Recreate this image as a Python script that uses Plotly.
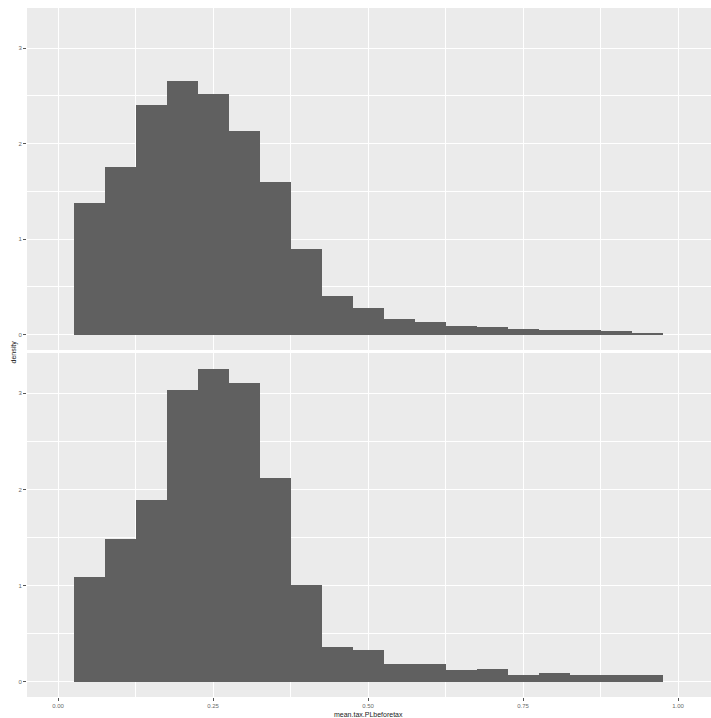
import plotly.graph_objects as go
from plotly.subplots import make_subplots

# Histogram bins (centers) and densities for the two facets
bin_centers = [0.05, 0.10, 0.15, 0.20, 0.25, 0.30, 0.35, 0.40, 0.45, 0.50,
               0.55, 0.60, 0.65, 0.70, 0.75, 0.80, 0.85, 0.90, 0.95]
bin_width = 0.05
density_top = [1.38, 1.76, 2.40, 2.66, 2.52, 2.13, 1.60, 0.90, 0.41, 0.28,
               0.165, 0.13, 0.092, 0.078, 0.06, 0.05, 0.047, 0.04, 0.017]
density_bottom = [1.09, 1.48, 1.89, 3.04, 3.25, 3.11, 2.12, 1.01, 0.365, 0.334,
                  0.185, 0.185, 0.118, 0.133, 0.073, 0.09, 0.073, 0.073, 0.073]

x_ticks = [0.0, 0.25, 0.5, 0.75, 1.0]
x_ticklabels = ["0.00", "0.25", "0.50", "0.75", "1.00"]
y_ticks = [0, 1, 2, 3]
y_ticklabels = ["0", "1", "2", "3"]
x_title = "mean.tax.PLbeforetax"
y_title = "density"

BAR = "#606060"
PANEL = "#EBEBEB"
FONT = "Liberation Sans, Arial, sans-serif"

fig = make_subplots(rows=2, cols=1, shared_xaxes=True, vertical_spacing=0.004)

for r, dens in ((1, density_top), (2, density_bottom)):
    fig.add_trace(go.Bar(x=bin_centers, y=dens, width=[bin_width] * len(dens),
                         marker=dict(color=BAR, line=dict(width=0)),
                         showlegend=False, hoverinfo="skip"), row=r, col=1)

W, H = 715, 718
ml, mr, mt, mb = 27, 0, 8, 21
px_per_unit = 620.0
x_left = -0.05
x_right = x_left + (W - ml - mr) / px_per_unit
plot_h = H - mt - mb
top_dom = [(H - mb - 350) / plot_h, 1.0]
bot_dom = [0.0, (H - mb - 353) / plot_h]

x_common = dict(range=[x_left, x_right], tickvals=x_ticks, ticktext=x_ticklabels,
                showgrid=True, gridcolor="white", gridwidth=1.1, zeroline=False,
                showline=False,
                minor=dict(dtick=0.125, tick0=0.125, showgrid=True, gridcolor="white", gridwidth=0.5),
                ticks="outside", ticklen=3, tickcolor="#555555", tickwidth=0.7,
                tickfont=dict(size=6, color="#6a6a6a", family=FONT))
y_common = dict(range=[-0.16, 3.42], tickvals=y_ticks, ticktext=y_ticklabels,
                showgrid=True, gridcolor="white", gridwidth=1.1, zeroline=False,
                showline=False,
                minor=dict(dtick=0.5, tick0=0.5, showgrid=True, gridcolor="white", gridwidth=0.5),
                ticks="outside", ticklen=3, tickcolor="#555555", tickwidth=0.7,
                tickfont=dict(size=6, color="#6a6a6a", family=FONT))

fig.update_layout(
    width=W, height=H,
    margin=dict(l=ml, r=mr, t=mt, b=mb),
    paper_bgcolor="white", plot_bgcolor=PANEL,
    bargap=0, font=dict(family=FONT),
    xaxis=dict(x_common, showticklabels=False, ticks=""),
    xaxis2=dict(x_common),
    yaxis=dict(y_common, domain=top_dom),
    yaxis2=dict(y_common, domain=bot_dom),
)

fig.add_annotation(text=x_title, xref="x2", yref="paper", x=0.5, y=0,
                   yshift=-12, xanchor="center", yanchor="top", showarrow=False,
                   font=dict(size=7, color="#222222", family=FONT))
fig.add_annotation(text=y_title, xref="paper", yref="paper", x=0, y=0.5,
                   xshift=-8, xanchor="right", yanchor="middle", textangle=-90,
                   showarrow=False, font=dict(size=7, color="#222222", family=FONT))

fig.write_html("out.html", config={"displayModeBar": False},
               post_script="document.body.style.margin='0';document.body.style.overflow='hidden';")
